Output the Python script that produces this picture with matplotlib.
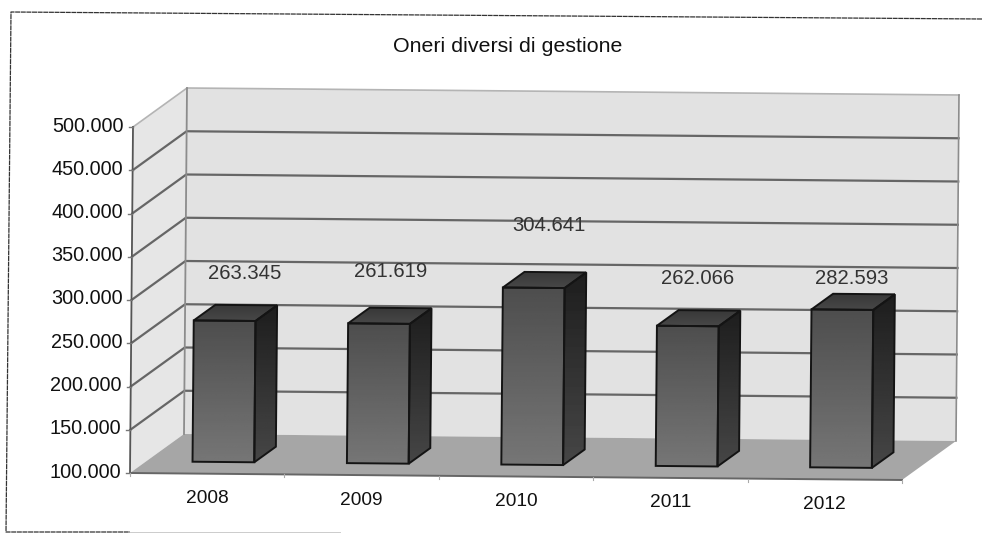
import numpy as np
import matplotlib
matplotlib.use('Agg')
import matplotlib.pyplot as plt
from matplotlib.patches import Polygon

plt.rcParams['font.family'] = ['Liberation Sans', 'DejaVu Sans']

years = ['2008', '2009', '2010', '2011', '2012']
values = [263345, 261619, 304641, 262066, 282593]
ticks = [100000, 150000, 200000, 250000, 300000, 350000, 400000, 450000, 500000]
title = 'Oneri diversi di gestione'

# label offset from the bar top, it differs for each bar in the picture
label_up = [32, 36, 47, 32, 16]
label_right = [-2, -10, -6, -12, -12]


def fmt(v):
    return f'{v:,}'.replace(',', '.')


# the chart is a scanned 3d one: slot along x, value up, depth towards the back
def pt(slot, value, depth=0):
    h = (value - ticks[0]) / 100000
    return (130 + 154.4 * slot + 0.75 * h + 54 * depth,
            473 + 1.4 * slot - 86.5 * h - 39 * depth)


def shaded(ax, corners, top, bottom):
    poly = Polygon(corners, closed=True, fc='none', ec='#141414', lw=1.4, zorder=5)
    ax.add_patch(poly)
    xs = [c[0] for c in corners]
    ys = [c[1] for c in corners]
    grad = np.linspace(top, bottom, 64).reshape(-1, 1)
    im = ax.imshow(grad, cmap='gray', vmin=0, vmax=255, aspect='auto', zorder=4,
                   extent=(min(xs), max(xs), max(ys), min(ys)))
    im.set_clip_path(poly)


fig = plt.figure(figsize=(9.82, 5.33), dpi=100)
ax = fig.add_axes([0, 0, 1, 1])

# outer frame of the chart
ax.plot([982, 11, 6, 130], [19, 12, 532, 532], color='#333333', lw=0.9, ls=(0, (4, 0.5)))
ax.plot([130, 340], [532, 532], color='#cccccc', lw=0.7)

# walls and floor
low, high = ticks[0], ticks[-1]
ax.add_patch(Polygon([pt(0, low), pt(0, high), pt(0, high, 1), pt(0, low, 1)],
                     fc='#e6e6e6', ec='none', zorder=1))
ax.add_patch(Polygon([pt(0, low, 1), pt(0, high, 1), pt(5, high, 1), pt(5, low, 1)],
                     fc='#e2e2e2', ec='none', zorder=1))
ax.add_patch(Polygon([pt(0, low), pt(5, low), pt(5, low, 1), pt(0, low, 1)],
                     fc='#a6a6a6', ec='none', zorder=2))

# gridlines run along the side wall and then across the back
for v in ticks[1:-1]:
    xs, ys = zip(pt(0, v), pt(0, v, 1), pt(5, v, 1))
    ax.plot(xs, ys, color='#666666', lw=1.6, zorder=3)
xs, ys = zip(pt(0, high), pt(0, high, 1), pt(5, high, 1), pt(5, low, 1), pt(5, low), pt(0, low))
ax.plot(xs[:3], ys[:3], color='#b4b4b4', lw=1.2, zorder=3)
ax.plot(xs[2:4], ys[2:4], color='#8c8c8c', lw=1.2, zorder=3)
xs, ys = zip(pt(0, low, 1), pt(0, high, 1))
ax.plot(xs, ys, color='#8c8c8c', lw=1.3, zorder=3)
xs, ys = zip(pt(0, low), pt(0, high))
ax.plot(xs, ys, color='#555555', lw=1.3, zorder=3)
xs, ys = zip(pt(0, low), pt(5, low))
ax.plot(xs, ys, color='#666666', lw=1.4, zorder=3)

# y axis ticks and labels
for v in ticks:
    x, y = pt(0, v)
    ax.plot([x - 4, x], [y, y], color='#777777', lw=1.0, zorder=3)
    ax.text(x - 9, y - 1, fmt(v), ha='right', va='center', fontsize=14.3, color='#111111')

# x axis ticks and labels
for i in range(6):
    x, y = pt(i, low)
    ax.plot([x, x], [y, y + 3], color='#aaaaaa', lw=0.8, zorder=3)
for i, year in enumerate(years):
    x, y = pt(i + 0.5, low)
    ax.text(x, y + 25, year, ha='center', va='center', fontsize=13.8, color='#111111')

# bars
for i, v in enumerate(values):
    a, b = i + 0.3, i + 0.7
    d0, d1 = 0.3, 0.7
    shaded(ax, [pt(a, low, d0), pt(a, v, d0), pt(b, v, d0), pt(b, low, d0)], 78, 118)
    shaded(ax, [pt(b, low, d0), pt(b, v, d0), pt(b, v, d1), pt(b, low, d1)], 30, 70)
    shaded(ax, [pt(a, v, d0), pt(a, v, d1), pt(b, v, d1), pt(b, v, d0)], 55, 72)
    x, y = pt(i + 0.5, v, d1)
    ax.text(x + label_right[i], y - label_up[i], fmt(v), ha='center', va='center',
            fontsize=14.6, color='#333333', zorder=6)

ax.text(508, 47, title, ha='center', va='center', fontsize=15.4, color='#111111')

ax.set_xlim(0, 982)
ax.set_ylim(533, 0)
ax.axis('off')
fig.savefig('out.png', dpi=100)
